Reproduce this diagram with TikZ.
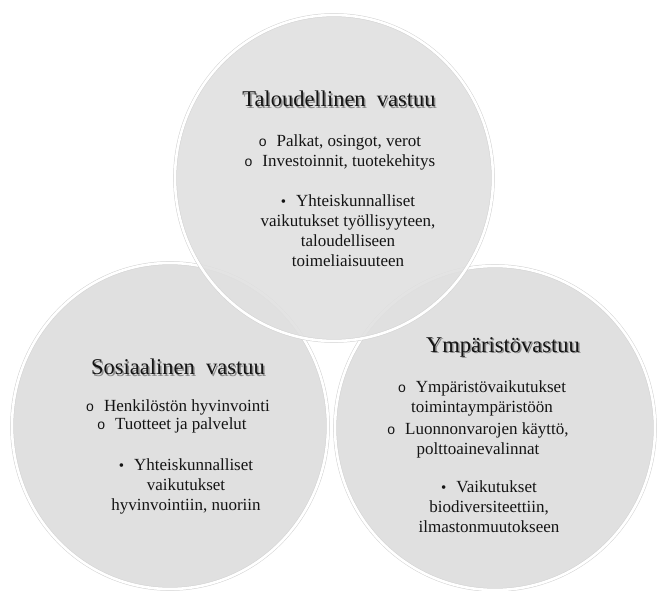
\documentclass[tikz,border=0pt]{standalone}
\usepackage{fontspec}
\setmainfont{Liberation Serif}
\newfontfamily\pallofont{Liberation Sans}
\definecolor{pallo}{RGB}{224,224,224}
\definecolor{teksti}{RGB}{20,20,20}
\newcommand{\varjo}[1]{\makebox[0pt][l]{\raisebox{-1.5pt}{\hspace{1.5pt}\textcolor{black!45}{#1}}}#1}
\newcommand{\ympa}{{\pallofont\fontsize{14}{14}\selectfont o}\hspace{10pt}}
\newcommand{\pist}{{\fontsize{15}{15}\selectfont\textbullet}\hspace{10pt}}

\begin{document}
\begin{tikzpicture}[x=1pt,y=-1pt,
	ympyra/.style={fill=pallo,draw=gray!35,double=white,double distance=2.6pt,line width=0.5pt},
	otsikko/.style={font=\fontsize{22.5}{27}\selectfont,text=teksti,inner sep=0pt},
	kohta/.style={font=\fontsize{17}{20}\selectfont,text=teksti,align=center,inner sep=0pt}]
	\useasboundingbox[fill=white] (0,0) rectangle (659,591);
	% pallot
	\draw[ympyra] (170,426) ellipse [x radius=158pt, y radius=163pt];
	\draw[ympyra] (495,428) ellipse [x radius=160pt, y radius=162pt];
	\draw[ympyra,fill opacity=0.88] (334,178) ellipse [x radius=159pt, y radius=163pt];
	% talous
	\node[otsikko] (talous) at (339,100) {\varjo{Taloudellinen\ \ vastuu}};
	\node[kohta] (palkat) at (340,142) {\ympa Palkat, osingot, verot};
	\node[kohta] (invest) at (340,162) {\ympa Investoinnit, tuotekehitys};
	\node[kohta] (tyollisyys) at (348,231) {\pist Yhteiskunnalliset\\vaikutukset työllisyyteen,\\taloudelliseen\\toimeliaisuuteen};
	% sosiaalinen
	\node[otsikko] (sosiaali) at (178,368) {\varjo{Sosiaalinen\ \ vastuu}};
	\node[kohta] (henkilosto) at (178,407) {\ympa Henkilöstön hyvinvointi};
	\node[kohta] (tuotteet) at (172,425) {\ympa Tuotteet ja palvelut};
	\node[kohta] (nuoret) at (186,486) {\pist Yhteiskunnalliset\\vaikutukset\\hyvinvointiin, nuoriin};
	% ymparisto
	\node[otsikko] (ymparisto) at (503,348) {\varjo{Ympäristövastuu}};
	\node[kohta] (toiminta) at (482,398) {\ympa Ympäristövaikutukset\\toimintaympäristöön};
	\node[kohta] (luonto) at (478,440) {\ympa Luonnonvarojen käyttö,\\polttoainevalinnat};
	\node[kohta] (ilmasto) at (489,507) {\pist Vaikutukset\\biodiversiteettiin,\\ilmastonmuutokseen};
\end{tikzpicture}
\end{document}
